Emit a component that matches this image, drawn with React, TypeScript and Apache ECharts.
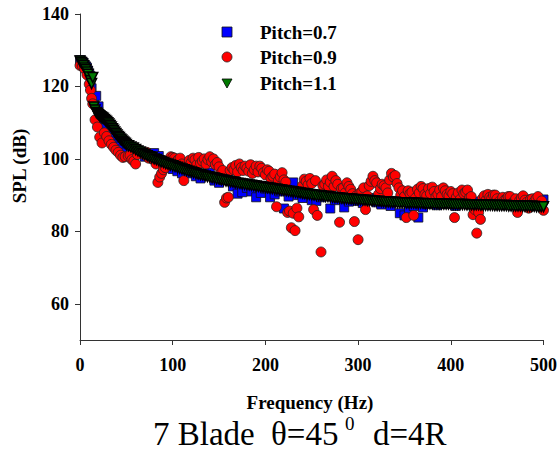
import React, { useEffect, useRef } from "react";
import * as echarts from "echarts";

const xTicks = [0, 100, 200, 300, 400, 500];
const yTicks = [60, 80, 100, 120, 140];
const seriesNames = ["Pitch=0.7", "Pitch=0.9", "Pitch=1.1"];
const xTitle = "Frequency (Hz)";
const yTitle = "SPL (dB)";

// Pitch = 0.7 (blue squares): [frequency Hz, SPL dB]
const pitch07: [number, number][] = [
  [0, 127.3], [1.25, 127.0], [2.5, 126.8], [3.75, 126.6], [5, 126.0], [6.25, 125.6], [7.5, 125.2], [8.75, 124.4],
  [10, 123.5], [11.25, 122.0], [12.5, 119.5], [13.75, 117.2], [15, 116.4], [17.5, 117.4], [20, 114.5], [22.5, 112.0],
  [25, 110.3], [27.5, 108.6], [30, 107.0], [32.5, 105.8], [35, 104.8], [37.5, 104.0], [40, 103.4], [42.5, 102.6],
  [45, 101.6], [47.5, 101.2], [50, 101.8], [55, 103.0], [60, 102.2], [65, 101.4], [70, 100.6], [75, 100.9],
  [80, 101.6], [85, 100.8], [90, 99.6], [95, 98.0], [100, 97.2], [105, 96.6], [110, 96.0], [115, 97.4],
  [120, 96.0], [125, 95.2], [130, 94.6], [135, 95.8], [140, 96.2], [145, 94.0], [150, 93.4], [155, 94.2],
  [160, 94.6], [165, 92.4], [170, 90.4], [175, 90.8], [180, 92.0], [185, 91.0], [190, 89.4], [195, 90.6],
  [200, 91.8], [205, 89.4], [210, 90.2], [215, 91.0], [220, 86.3], [225, 89.6], [230, 93.5], [235, 90.0],
  [240, 89.2], [245, 90.4], [250, 88.6], [255, 88.4], [260, 89.4], [265, 90.2], [270, 86.3], [275, 88.6],
  [280, 89.4], [285, 86.6], [290, 88.2], [295, 89.0], [300, 88.4], [305, 87.8], [310, 88.6], [315, 89.2],
  [320, 88.0], [325, 87.4], [330, 88.2], [335, 87.0], [340, 88.4], [345, 85.0], [350, 84.4], [355, 86.2],
  [360, 87.0], [365, 83.8], [370, 86.6], [375, 87.6], [380, 88.2], [385, 87.2], [390, 88.0], [395, 87.6],
  [400, 88.4], [405, 87.0], [410, 88.0], [415, 88.6], [420, 87.8], [425, 87.4], [430, 88.2], [435, 87.6],
  [440, 88.8], [445, 88.0], [450, 88.4], [455, 87.6], [460, 88.6], [465, 88.2], [470, 88.8], [475, 88.0],
  [480, 88.6], [485, 88.8], [490, 88.4], [495, 88.6], [500, 88.8],
];

// Pitch = 0.9 (red circles)
const pitch09: [number, number][] = [
  [0, 125.8], [2.5, 125.6], [5, 124.8], [7.5, 123.2], [10, 120.6], [11.25, 119.0], [12.5, 116.7], [13.75, 115.2],
  [16.25, 110.8], [18.75, 108.8], [21.25, 106.0], [23.75, 104.4], [26.25, 107.2], [28.75, 106.2], [31.25, 105.0],
  [33.75, 104.0], [36.25, 103.2], [38.75, 102.4], [41.25, 101.8], [43.75, 101.0], [46.25, 100.4], [48.75, 100.6],
  [52, 100.8], [54, 101.0], [56, 99.8], [58, 99.4], [60, 98.6], [62, 101.2], [64, 102.4], [66, 102.0],
  [68, 101.6], [70, 101.0], [72, 101.8], [74, 100.2], [76, 100.8], [78, 100.0], [80, 99.6], [82, 98.6],
  [84, 93.5], [86, 95.0], [88, 96.0], [90, 97.0], [92, 97.6], [94, 98.8], [96, 99.6], [98, 100.6],
  [100, 100.4], [102, 100.2], [104, 99.2], [106, 99.8], [108, 100.2], [110, 98.6], [112, 94.0], [114, 97.2],
  [116, 98.0], [118, 99.6], [120, 99.0], [122, 100.2], [124, 99.8], [126, 98.4], [128, 100.4], [130, 98.8],
  [132, 99.4], [134, 100.0], [136, 98.6], [138, 99.8], [140, 100.6], [142, 99.2], [144, 100.0], [146, 98.4],
  [148, 99.0], [150, 97.8], [152, 96.0], [154, 96.8], [156, 88.0], [158, 89.2], [160, 89.4], [162, 96.8],
  [164, 97.6], [166, 97.0], [168, 98.2], [170, 96.4], [172, 98.6], [174, 97.6], [176, 96.8], [178, 98.0],
  [180, 97.4], [182, 96.6], [184, 98.4], [186, 96.0], [188, 97.0], [190, 98.0], [192, 96.4], [194, 98.0],
  [196, 97.4], [198, 96.2], [200, 95.6], [202, 97.0], [204, 96.6], [206, 94.6], [208, 95.2], [210, 95.8],
  [212, 86.8], [214, 94.0], [216, 95.0], [218, 96.2], [220, 94.2], [222, 93.6], [224, 85.2], [226, 85.6],
  [228, 81.0], [230, 85.0], [232, 80.2], [234, 86.4], [236, 84.0], [240, 92.6], [242, 94.4], [244, 93.8],
  [246, 92.8], [248, 94.6], [250, 93.2], [252, 86.0], [254, 94.0], [256, 84.4], [260, 74.3], [262, 92.6],
  [264, 93.0], [266, 94.2], [268, 92.4], [270, 93.6], [272, 95.2], [274, 92.4], [276, 94.0], [278, 93.0],
  [280, 82.5], [282, 91.8], [284, 92.0], [286, 90.6], [288, 93.4], [290, 92.4], [292, 91.6], [294, 90.4],
  [296, 82.7], [298, 89.8], [300, 77.7], [302, 90.6], [304, 91.0], [306, 92.0], [308, 86.0], [310, 89.8],
  [312, 92.6], [314, 93.8], [316, 95.2], [318, 94.0], [320, 93.4], [322, 90.2], [324, 91.8], [326, 93.0],
  [328, 92.6], [330, 92.0], [332, 90.6], [334, 94.2], [336, 96.0], [338, 95.0], [340, 95.4], [342, 93.2],
  [344, 92.0], [346, 90.0], [348, 91.2], [350, 89.6], [352, 83.8], [354, 91.2], [356, 90.4], [358, 90.8],
  [360, 84.4], [362, 89.2], [364, 91.6], [366, 90.6], [368, 92.4], [370, 91.8], [372, 90.2], [374, 89.8],
  [376, 91.8], [378, 90.4], [380, 92.2], [382, 91.0], [384, 89.6], [386, 90.2], [388, 91.4], [390, 89.6],
  [392, 92.0], [394, 91.2], [396, 90.2], [398, 89.8], [400, 91.0], [402, 90.4], [404, 83.8], [406, 89.4],
  [408, 90.6], [410, 88.8], [412, 91.4], [414, 90.4], [416, 90.8], [418, 91.4], [420, 89.2], [422, 89.6],
  [424, 84.6], [426, 86.0], [428, 79.5], [430, 85.2], [432, 83.3], [434, 89.0], [436, 89.8], [438, 88.6],
  [440, 90.2], [442, 89.4], [444, 89.0], [446, 90.0], [448, 90.0], [450, 89.0], [452, 88.2], [454, 88.0],
  [456, 89.4], [458, 88.6], [460, 88.8], [462, 89.6], [464, 89.6], [466, 87.8], [468, 88.0], [470, 89.0],
  [472, 85.2], [474, 88.4], [476, 89.2], [478, 89.8], [480, 88.6], [482, 88.0], [484, 86.4], [486, 88.8],
  [488, 89.0], [490, 88.2], [492, 89.0], [494, 89.6], [496, 87.0], [498, 88.4], [500, 85.8],
];

// Pitch = 1.1 (green down-triangles)
const pitch11: [number, number][] = [
  [0, 127.0], [1.25, 126.6], [2.5, 126.2], [3.75, 125.7], [5, 125.1], [6.25, 124.6], [7.5, 124.0], [8.75, 123.4],
  [10, 122.6], [11.25, 121.6], [12.5, 120.8], [13.75, 122.5], [15, 114.3], [16.25, 113.5], [17.5, 112.8], [18.75, 112.5],
  [20, 112.2], [21.25, 111.9], [22.5, 111.6], [23.75, 111.4], [25, 111.2], [26.25, 110.9], [27.5, 110.6], [28.75, 110.3],
  [30, 110.0], [31.25, 109.6], [32.5, 109.2], [33.75, 108.8], [35, 108.3], [36.25, 107.9], [37.5, 107.4], [38.75, 107.0],
  [40, 106.6], [41.25, 106.2], [42.5, 105.9], [43.75, 105.5], [45, 105.2], [46.25, 104.9], [47.5, 104.6], [48.75, 104.3],
  [50, 104.0], [52.5, 103.6], [55, 103.3], [57.5, 103.0], [60, 102.6], [62.5, 102.2], [65, 101.9], [67.5, 101.5],
  [70, 101.2], [72.5, 100.9], [75, 100.6], [77.5, 100.3], [80, 100.0], [82.5, 99.8], [85, 99.5], [87.5, 99.2],
  [90, 99.0], [92.5, 98.7], [95, 98.5], [97.5, 98.3], [100, 98.1], [102.5, 97.9], [105, 97.7], [107.5, 97.4],
  [110, 97.2], [112.5, 97.0], [115, 96.8], [117.5, 96.6], [120, 96.4], [122.5, 96.2], [125, 96.0], [127.5, 95.8],
  [130, 95.6], [132.5, 95.5], [135, 95.3], [137.5, 95.1], [140, 95.0], [142.5, 94.8], [145, 94.7], [147.5, 94.5],
  [150, 94.4], [152.5, 94.2], [155, 94.1], [157.5, 93.9], [160, 93.8], [162.5, 93.7], [165, 93.6], [167.5, 93.4],
  [170, 93.3], [172.5, 93.2], [175, 93.1], [177.5, 93.0], [180, 92.9], [182.5, 92.8], [185, 92.7], [187.5, 92.6],
  [190, 92.5], [192.5, 92.4], [195, 92.3], [197.5, 92.2], [200, 92.1], [202.5, 92.0], [205, 91.9], [207.5, 91.8],
  [210, 91.7], [212.5, 91.6], [215, 91.5], [217.5, 91.4], [220, 91.3], [222.5, 91.2], [225, 91.1], [227.5, 91.0],
  [230, 90.9], [232.5, 90.8], [235, 90.7], [237.5, 90.6], [240, 90.5], [242.5, 90.4], [245, 90.3], [247.5, 90.2],
  [250, 90.1], [252.5, 90.0], [255, 89.9], [257.5, 89.9], [260, 89.8], [262.5, 89.7], [265, 89.6], [267.5, 89.6],
  [270, 89.5], [272.5, 89.4], [275, 89.3], [277.5, 89.3], [280, 89.2], [282.5, 89.1], [285, 89.0], [287.5, 89.0],
  [290, 88.9], [292.5, 88.9], [295, 88.8], [297.5, 88.8], [300, 88.7], [302.5, 88.7], [305, 88.6], [307.5, 88.6],
  [310, 88.5], [312.5, 88.5], [315, 88.4], [317.5, 88.4], [320, 88.3], [322.5, 88.3], [325, 88.2], [327.5, 88.2],
  [330, 88.1], [332.5, 88.1], [335, 88.0], [337.5, 88.0], [340, 88.0], [342.5, 87.9], [345, 87.9], [347.5, 87.9],
  [350, 87.9], [352.5, 87.8], [355, 87.8], [357.5, 87.8], [360, 87.8], [362.5, 87.7], [365, 87.7], [367.5, 87.7],
  [370, 87.7], [372.5, 87.6], [375, 87.6], [377.5, 87.6], [380, 87.6], [382.5, 87.6], [385, 87.6], [387.5, 87.5],
  [390, 87.5], [392.5, 87.5], [395, 87.5], [397.5, 87.5], [400, 87.5], [402.5, 87.4], [405, 87.4], [407.5, 87.4],
  [410, 87.4], [412.5, 87.4], [415, 87.4], [417.5, 87.3], [420, 87.3], [422.5, 87.3], [425, 87.3], [427.5, 87.3],
  [430, 87.3], [432.5, 87.2], [435, 87.2], [437.5, 87.2], [440, 87.2], [442.5, 87.2], [445, 87.2], [447.5, 87.1],
  [450, 87.1], [452.5, 87.1], [455, 87.1], [457.5, 87.1], [460, 87.1], [462.5, 87.0], [465, 87.0], [467.5, 87.0],
  [470, 87.0], [472.5, 87.0], [475, 87.0], [477.5, 86.9], [480, 86.9], [482.5, 86.9], [485, 86.9], [487.5, 86.9],
  [490, 86.9], [492.5, 86.8], [495, 86.8], [497.5, 86.8], [500, 86.8],
];

const SERIF = "Liberation Serif, Times New Roman, serif";
const BLUE = "#0000ff";
const RED = "#ff0000";
const GREEN = "#007a00";

export default function App() {
  const ref = useRef<HTMLDivElement>(null);

  useEffect(() => {
    if (!ref.current) return;
    const chart = echarts.init(ref.current, null, { renderer: "svg" });
    const axisLabelStyle = {
      color: "#000",
      fontFamily: SERIF,
      fontWeight: "bold" as const,
      fontSize: 18,
    };
    const txt = (text: string, x: number, y: number, size: number, bold: boolean, align = "left", rotation = 0) => ({
      type: "text",
      x,
      y,
      rotation,
      silent: true,
      style: {
        text,
        fontFamily: SERIF,
        fontSize: size,
        fontWeight: bold ? "bold" : "normal",
        fill: "#000",
        align,
        verticalAlign: "middle",
        textAlign: align,
        textVerticalAlign: "middle",
      },
    });
    chart.setOption({
      animation: false,
      backgroundColor: "#fff",
      textStyle: { fontFamily: SERIF },
      grid: { left: 80, right: 15, top: 14, bottom: 112 },
      xAxis: {
        type: "value",
        min: 0,
        max: 500,
        interval: 100,
        splitLine: { show: false },
        axisLine: { show: true, lineStyle: { color: "#333", width: 1 } },
        axisTick: { show: true, inside: false, length: 5, lineStyle: { color: "#333" } },
        axisLabel: { ...axisLabelStyle, margin: 16, formatter: (v: number) => (xTicks.includes(v) ? String(v) : "") },
      },
      yAxis: {
        type: "value",
        min: 50,
        max: 140,
        splitLine: { show: false },
        axisLine: { show: true, lineStyle: { color: "#333", width: 1 } },
        axisTick: { show: true, inside: false, length: 5, customValues: yTicks, lineStyle: { color: "#333" } },
        axisLabel: { ...axisLabelStyle, margin: 11, customValues: yTicks },
      },
      series: [
        {
          name: seriesNames[0],
          type: "scatter",
          data: pitch07,
          symbol: "rect",
          symbolSize: 9,
          itemStyle: { color: BLUE, borderColor: "#111", borderWidth: 0.8, opacity: 1 },
        },
        {
          name: seriesNames[1],
          type: "scatter",
          data: pitch09,
          symbol: "circle",
          symbolSize: 10,
          itemStyle: { color: RED, borderColor: "#222", borderWidth: 0.8, opacity: 1 },
        },
        {
          name: seriesNames[2],
          type: "scatter",
          data: pitch11,
          symbol: "triangle",
          symbolRotate: 180,
          symbolSize: 10,
          itemStyle: { color: GREEN, borderColor: "#000", borderWidth: 1.5, opacity: 1 },
        },
      ],
      graphic: [
        { type: "rect", silent: true, shape: { x: 222, y: 27, width: 10, height: 10 }, style: { fill: BLUE, stroke: "#111", lineWidth: 0.8 } },
        { type: "circle", silent: true, shape: { cx: 227, cy: 57, r: 5 }, style: { fill: RED, stroke: "#222", lineWidth: 0.8 } },
        {
          type: "polygon",
          silent: true,
          shape: { points: [[222, 79], [232, 79], [227, 88]] },
          style: { fill: GREEN, stroke: "#000", lineWidth: 0.8 },
        },
        txt(seriesNames[0], 260, 32, 19, true),
        txt(seriesNames[1], 260, 57, 19, true),
        txt(seriesNames[2], 260, 83, 19, true),
        txt(xTitle, 310, 402, 19, true, "center"),
        txt(yTitle, 19, 166, 19, true, "center", Math.PI / 2),
        txt("7 Blade", 153, 434, 33, false),
        txt("\u03b8=45", 271, 434, 33, false),
        txt("0", 345, 423, 19, false),
        txt("d=4R", 373, 434, 33, false),
      ],
    });
    return () => chart.dispose();
  }, []);

  return (
    <div
      ref={ref}
      style={{ position: "fixed", left: 0, top: 0, width: 560, height: 452, background: "#fff" }}
    />
  );
}
